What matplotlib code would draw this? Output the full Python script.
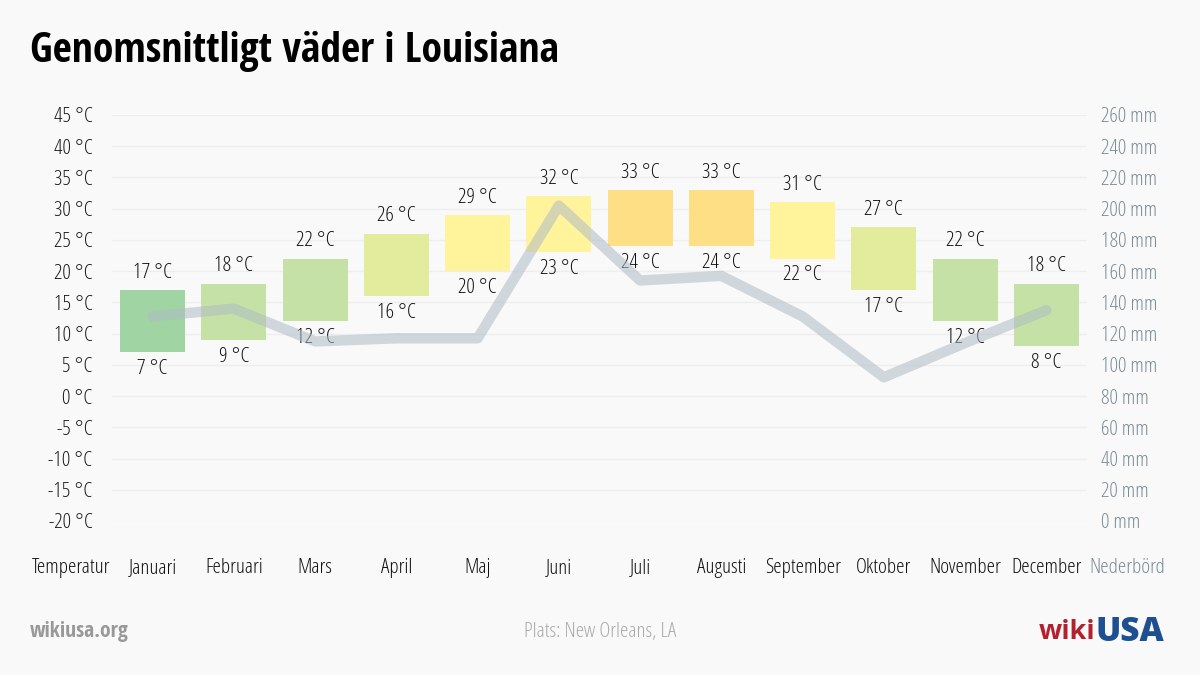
import matplotlib
matplotlib.use('Agg')
import matplotlib.pyplot as plt
import numpy as np

# data
months = ['Januari', 'Februari', 'Mars', 'April', 'Maj', 'Juni', 'Juli',
          'Augusti', 'September', 'Oktober', 'November', 'December']
temp_min = [7, 9, 12, 16, 20, 23, 24, 24, 22, 17, 12, 8]
temp_max = [17, 18, 22, 26, 29, 32, 33, 33, 31, 27, 22, 18]
precip = [131, 136, 115, 117, 117, 202, 154, 157, 131, 92, 114, 135]
bar_colors = ['#a0d5a3', '#c6e1a6', '#c6e1a6', '#e3eb9c', '#fff49b', '#fff39c',
              '#ffdf85', '#ffdf85', '#fff49b', '#e3eb9c', '#c6e1a6', '#c6e1a6']
temp_ticks = list(range(-20, 50, 5))
precip_ticks = list(range(0, 280, 20))

# condensed light Open Sans for all normal text
plt.rcParams['font.family'] = ['Open Sans', 'DejaVu Sans']
plt.rcParams['font.weight'] = 300
plt.rcParams['font.stretch'] = 'condensed'

bg = '#f9f9f9'
fs = 15.2
grey = '#7b8c96'
fig = plt.figure(figsize=(12, 6.75), dpi=100, facecolor=bg)
ax = fig.add_axes([112 / 1200, 1 - 521 / 675, 975 / 1200, 406 / 675])
ax.set_facecolor(bg)
ax2 = ax.twinx()

x = np.arange(1, 13)
ax.bar(x, np.array(temp_max) - np.array(temp_min), bottom=temp_min, width=0.8,
       color=bar_colors, zorder=2)

for xi, lo, hi in zip(x, temp_min, temp_max):
    ax.annotate(f'{hi} °C', (xi, hi), xytext=(0, 12.5), textcoords='offset points',
                ha='center', va='center', fontsize=fs, color='#111111')
    ax.annotate(f'{lo} °C', (xi, lo), xytext=(0, -12), textcoords='offset points',
                ha='center', va='center', fontsize=fs, color='#111111')

ax.set_xlim(0.5, 12.5)
ax.set_ylim(-20, 45)
ax.set_yticks(temp_ticks)
ax.set_yticklabels([f'{t} °C' for t in temp_ticks])
ax.set_xticks([])
ax.grid(axis='y', color='#eeeeee', linewidth=1, zorder=0)
ax.set_axisbelow(True)
ax.tick_params(axis='y', length=0, pad=14, labelsize=fs, labelcolor='#1a1a1a')

ax2.plot(x, precip, color='#aebbc5', alpha=0.55, linewidth=7.5,
         solid_capstyle='round', solid_joinstyle='round', zorder=3)
ax2.set_ylim(0, 260)
ax2.set_yticks(precip_ticks)
ax2.set_yticklabels([f'{p} mm' for p in precip_ticks])
ax2.tick_params(axis='y', length=0, pad=10, labelsize=fs, labelcolor=grey)

for a in (ax, ax2):
    for s in a.spines.values():
        s.set_visible(False)

# month labels
lab_y = -47 / 406
trans = ax.get_xaxis_transform()
for xi, m in zip(x, months):
    ax.text(xi, lab_y, m, transform=trans, ha='center', va='center',
            fontsize=fs, color='#111111', clip_on=False)
ax.text(0, lab_y, 'Temperatur', transform=trans, ha='center', va='center',
        fontsize=fs, color='#111111', clip_on=False)
ax.text(13, lab_y, 'Nederbörd', transform=trans, ha='center', va='center',
        fontsize=fs, color=grey, clip_on=False)

fig.text(30 / 1200, 1 - 52 / 675, 'Genomsnittligt väder i Louisiana',
         fontsize=30, fontweight='bold', family='Open Sans Condensed',
         color='#000000', va='center', ha='left')
fig.text(30 / 1200, 1 - 632 / 675, 'wikiusa.org', fontsize=15.5, fontweight='bold',
         family='Open Sans Condensed', color='#999999', va='center', ha='left')
fig.text(600 / 1200, 1 - 632 / 675, 'Plats: New Orleans, LA', fontsize=fs,
         color='#aaaaaa', va='center', ha='center')
fig.text(1095 / 1200, 1 - 632 / 675, 'wiki', fontsize=19.5, fontweight='bold',
         stretch='normal', color='#b5202e', va='center', ha='right')
fig.text(1095 / 1200, 1 - 632 / 675, 'USA', fontsize=24, fontweight=800,
         stretch='normal', color='#1d4f91', va='center', ha='left')

fig.savefig('out.png', dpi=100, facecolor=bg)
